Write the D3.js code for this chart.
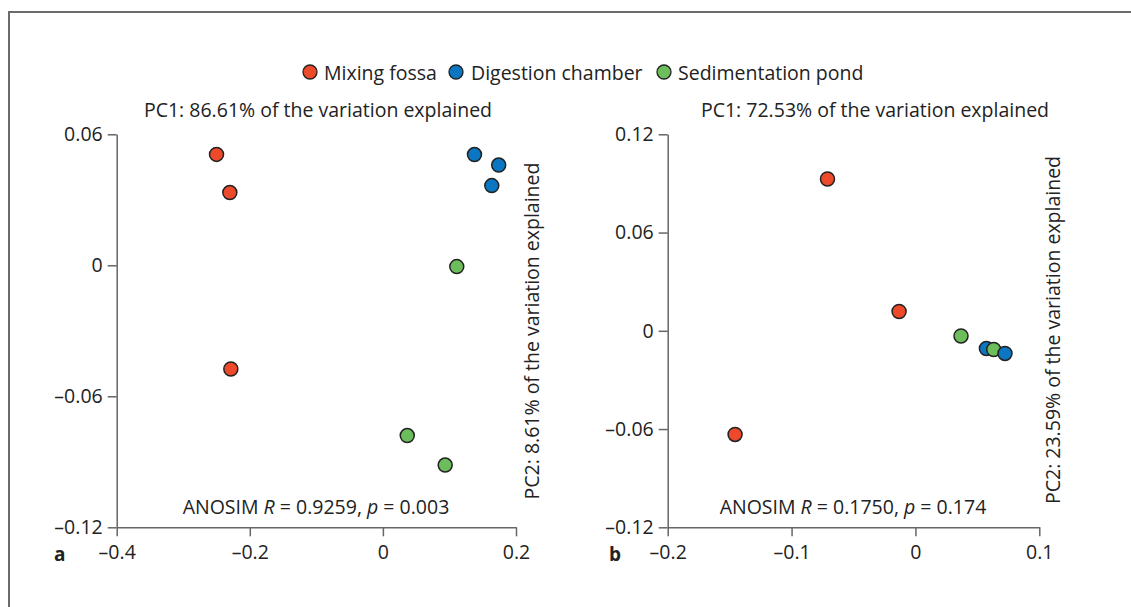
<!DOCTYPE html>
<html><head><meta charset="utf-8">
<script src="https://cdn.jsdelivr.net/npm/d3@7"></script>
<style>
body{margin:0;background:#fff;}
svg text{font-family:"Open Sans","Noto Sans",sans-serif;fill:#222;}
</style></head>
<body><svg id="c" width="1131" height="607"></svg>
<script>
const groups = ["Mixing fossa","Digestion chamber","Sedimentation pond"];
const colors = ["#ec4a2b","#0b76c1","#6cbd5b"];

// Panel a
const aGroup = [0,0,0,1,1,1,2,2,2];
const aPC1 = [-0.250,-0.230,-0.2285,0.1376,0.174,0.1636,0.111,0.0366,0.0936];
const aPC2 = [0.0508,0.0333,-0.0475,0.0507,0.0459,0.0365,-0.0006,-0.0780,-0.0915];
const aXTicks = [-0.4,-0.2,0,0.2];
const aYTicks = [-0.12,-0.06,0,0.06];

// Panel b
const bGroup = [0,0,0,2,1,2,1];
const bPC1 = [-0.071,-0.0132,-0.1456,0.0368,0.0573,0.0632,0.0723];
const bPC2 = [0.0927,0.0118,-0.0633,-0.0032,-0.0108,-0.0114,-0.0138];
const bXTicks = [-0.2,-0.1,0,0.1];
const bYTicks = [-0.12,-0.06,0,0.06,0.12];

const FS = 19.5;
const svg = d3.select("#c");
const fmt = v => v===0 ? "0" : (v<0 ? "\u2013" : "") + String(Math.abs(v));

// frame
svg.append("path").attr("d","M9,607 V12 H1131").attr("fill","none").attr("stroke","#6b6b6b").attr("stroke-width",2);

// legend
const leg = [{cx:310,tx:324},{cx:456,tx:471},{cx:664,tx:678}];
groups.forEach((g,i)=>{
  svg.append("circle").attr("cx",leg[i].cx).attr("cy",72).attr("r",7).attr("fill",colors[i]).attr("stroke","#222").attr("stroke-width",1.3);
  svg.append("text").attr("x",leg[i].tx).attr("y",79.5).attr("font-size",FS).text(g);
});

function panel(cfg){
  const x = d3.scaleLinear().domain(cfg.xd).range(cfg.xr);
  const y = d3.scaleLinear().domain(cfg.yd).range(cfg.yr);
  const g = svg.append("g");
  const ya = g.append("g").attr("transform",`translate(${cfg.xr[0]},0)`)
    .call(d3.axisLeft(y).tickValues(cfg.yt).tickSize(9).tickPadding(5).tickFormat(fmt).tickSizeOuter(0));
  const xa = g.append("g").attr("transform",`translate(0,${cfg.yr[0]})`)
    .call(d3.axisBottom(x).tickValues(cfg.xt).tickSize(9).tickPadding(9).tickFormat(fmt).tickSizeOuter(0));
  [ya,xa].forEach(a=>{
    a.selectAll("path,line").attr("stroke","#666").attr("stroke-width",1.5);
    a.selectAll("text").attr("font-size",FS).attr("fill","#222").attr("font-family",'"Open Sans","Noto Sans",sans-serif');
  });
  g.selectAll("circle.pt").data(cfg.px.map((v,i)=>({x:v,y:cfg.py[i],g:cfg.grp[i]})))
    .enter().append("circle").attr("class","pt")
    .attr("cx",d=>x(d.x)).attr("cy",d=>y(d.y)).attr("r",7)
    .attr("fill",d=>colors[d.g]).attr("stroke","#222").attr("stroke-width",1.5);
  g.append("text").attr("x",cfg.titleX).attr("y",116.5).attr("text-anchor","middle").attr("font-size",FS).text(cfg.title);
  g.append("text").attr("transform",`translate(${cfg.ylabX},${cfg.ylabY}) rotate(-90)`)
    .attr("text-anchor","middle").attr("dy","0.35em").attr("font-size",FS).text(cfg.ylab);
  const t = g.append("text").attr("x",cfg.anoX).attr("y",514).attr("text-anchor","middle").attr("font-size",FS);
  t.append("tspan").text("ANOSIM ");
  t.append("tspan").attr("font-style","italic").text("R");
  t.append("tspan").text(" = "+cfg.R+", ");
  t.append("tspan").attr("font-style","italic").text("p");
  t.append("tspan").text(" = "+cfg.p);
  g.append("text").attr("x",cfg.lx).attr("y",561).attr("font-size",19).attr("font-weight","bold").text(cfg.letter);
}

panel({xd:[-0.4,0.2],xr:[116.7,516],yd:[-0.12,0.06],yr:[527.3,134.3],xt:aXTicks,yt:aYTicks,
  px:aPC1,py:aPC2,grp:aGroup,title:"PC1: 86.61% of the variation explained",titleX:318,
  ylab:"PC2: 8.61% of the variation explained",ylabX:532,ylabY:331,anoX:316,R:"0.9259",p:"0.003",letter:"a",lx:54});
panel({xd:[-0.2,0.1],xr:[667.7,1039.3],yd:[-0.12,0.12],yr:[527.3,134.3],xt:bXTicks,yt:bYTicks,
  px:bPC1,py:bPC2,grp:bGroup,title:"PC1: 72.53% of the variation explained",titleX:875,
  ylab:"PC2: 23.59% of the variation explained",ylabX:1053,ylabY:330,anoX:853,R:"0.1750",p:"0.174",letter:"b",lx:609});
</script></body></html>
